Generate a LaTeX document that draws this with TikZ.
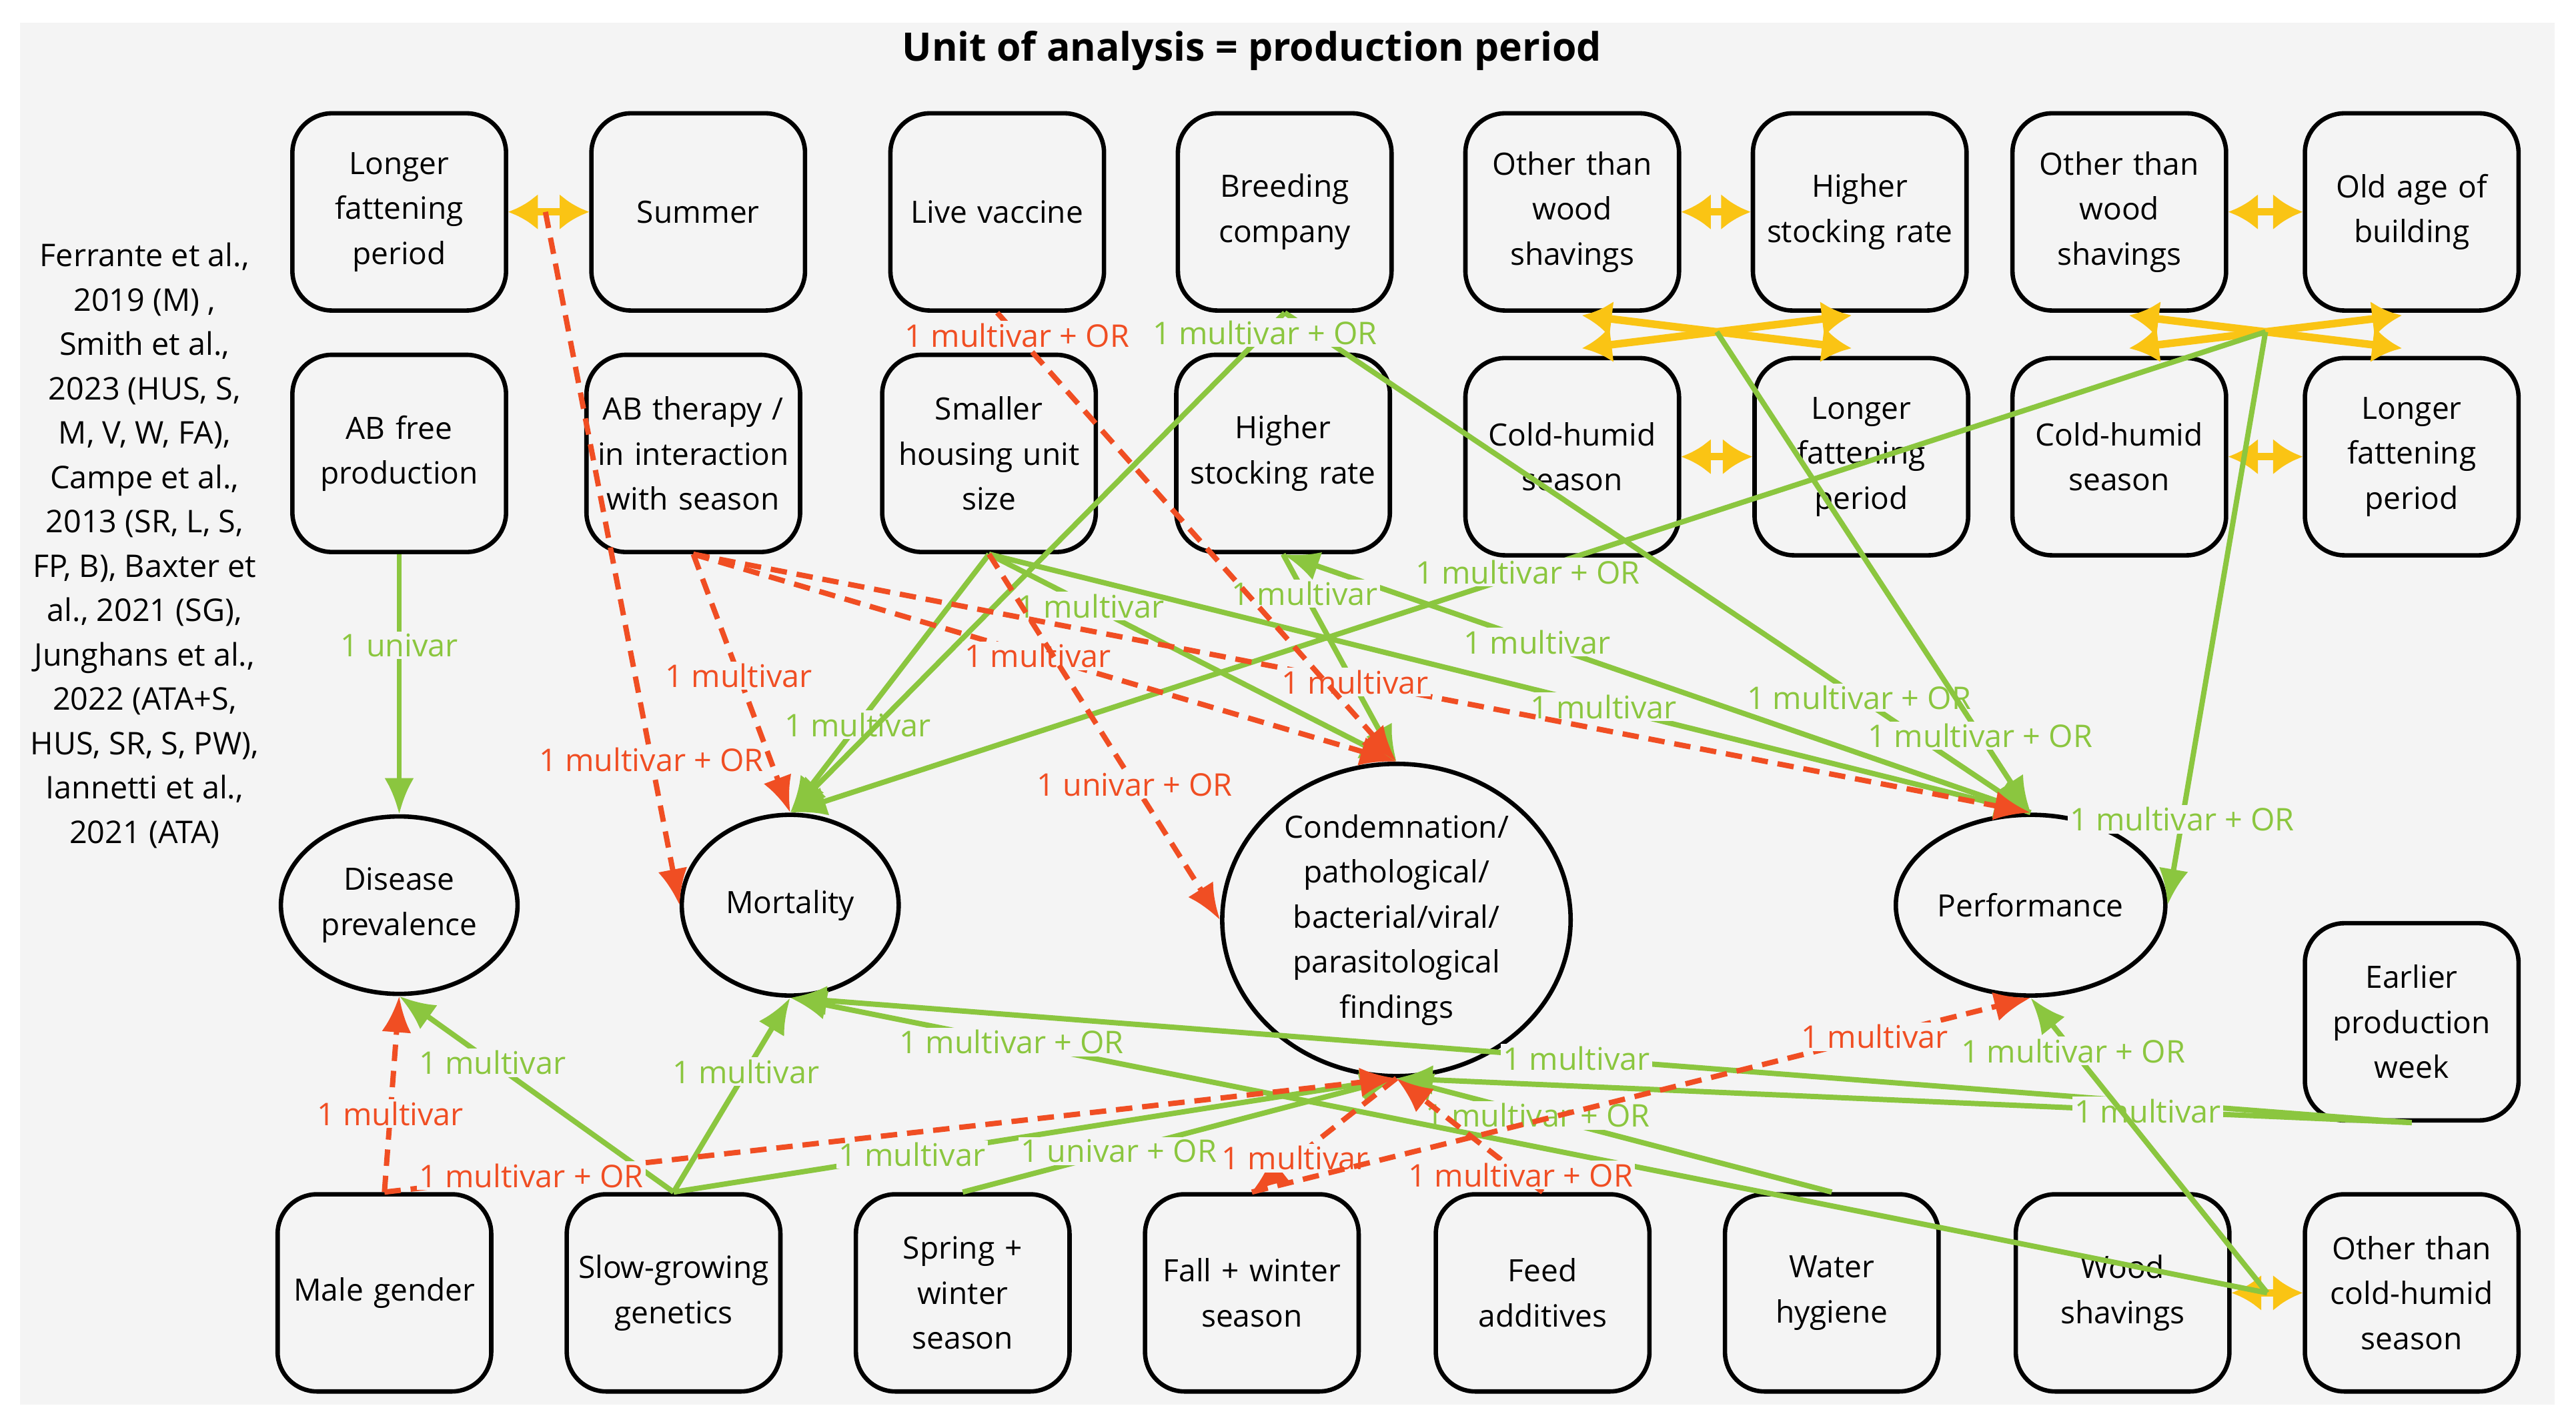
\documentclass[tikz,border=0pt]{standalone}
\usepackage{fontspec}
\setmainfont{Open Sans}
\usetikzlibrary{shapes.geometric,arrows.meta}
\definecolor{gr}{RGB}{139,198,63}
\definecolor{rd}{RGB}{240,78,35}
\definecolor{yl}{RGB}{250,196,20}
\definecolor{bg}{RGB}{244,244,244}
\begin{document}
\begin{tikzpicture}[x=0.025cm,y=-0.025cm,
 box/.style={draw,line width=1.9pt,rounded corners=0.6cm,minimum width=3.25cm,minimum height=3cm,align=center,text width=3.2cm,inner sep=0pt,font=\fontsize{13.3}{19.5}\selectfont},
 ell/.style={draw,line width=1.9pt,ellipse,align=center,inner sep=0pt,font=\fontsize{13.3}{19.5}\selectfont},
 g/.style={draw=gr,line width=2.3pt,-{Latex[length=0.55cm,width=0.45cm]}},
 r/.style={draw=rd,line width=2.3pt,dash pattern=on 0.25cm off 0.15cm,-{Latex[length=0.55cm,width=0.45cm]}},
 yarr/.style={draw=yl,line width=3.3pt,{Latex[length=0.45cm,width=0.55cm]}-{Latex[length=0.45cm,width=0.55cm]}},
 gl/.style={fill=bg,inner sep=1pt,text=gr,font=\fontsize{13.5}{15}\selectfont},
 rl/.style={fill=bg,inner sep=1pt,text=rd,font=\fontsize{13.5}{15}\selectfont}]
\useasboundingbox (0,0) rectangle (1568,868);
\fill[bg] (12,14) rectangle (1555,855);
\node[font=\bfseries\fontsize{17}{20}\selectfont] (title) at (762,31) {Unit of analysis = production period};
\node[align=center,font=\fontsize{13.5}{19.2}\selectfont] (refs) at (88,332) {Ferrante et al.,\\2019 (M) ,\\Smith et al.,\\2023 (HUS, S,\\M, V, W, FA),\\Campe et al.,\\2013 (SR, L, S,\\FP, B), Baxter et\\al., 2021 (SG),\\Junghans et al.,\\2022 (ATA+S,\\HUS, SR, S, PW),\\Iannetti et al.,\\2021 (ATA)};
% row 1
\node[box] (lfp1) at (243,129) {Longer\\fattening\\period};
\node[box] (sum) at (425,129) {Summer};
\node[box] (lv) at (607,129) {Live vaccine};
\node[box] (bc) at (782,129) {Breeding\\company};
\node[box] (owsA) at (957,129) {Other than\\wood\\shavings};
\node[box] (hsr1) at (1132,129) {Higher\\stocking rate};
\node[box] (owsB) at (1290,129) {Other than\\wood\\shavings};
\node[box] (old) at (1468,129) {Old age of\\building};
% row 2
\node[box] (abf) at (243,276) {AB free\\production};
\node[box] (abt) at (422,276) {AB therapy /\\in interaction\\with season};
\node[box] (shu) at (602,276) {Smaller\\housing unit\\size};
\node[box] (hsr2) at (781,276) {Higher\\stocking rate};
\node[box] (chA) at (957,278) {Cold-humid\\season};
\node[box] (lfpA) at (1133,278) {Longer\\fattening\\period};
\node[box] (chB) at (1290,278) {Cold-humid\\season};
\node[box] (lfpB) at (1468,278) {Longer\\fattening\\period};
% outcomes
\node[ell,minimum width=3.6cm,minimum height=2.7cm] (dis) at (243,551) {Disease\\prevalence};
\node[ell,minimum width=3.3cm,minimum height=2.75cm] (mort) at (481,551) {Mortality};
\node[ell,minimum width=5.3cm,minimum height=4.75cm] (cond) at (850,560) {Condemnation/\\pathological/\\bacterial/viral/\\parasitological\\findings};
\node[ell,minimum width=4.1cm,minimum height=2.75cm] (perf) at (1236,551) {Performance};
\node[box] (early) at (1468,622) {Earlier\\production\\week};
% bottom row
\node[box] (male) at (234,787) {Male gender};
\node[box] (slow) at (410,787) {Slow-growing\\genetics};
\node[box] (spr) at (586,787) {Spring +\\winter\\season};
\node[box] (fall) at (762,787) {Fall + winter\\season};
\node[box] (feed) at (939,787) {Feed\\additives};
\node[box] (wat) at (1115,787) {Water\\hygiene};
\node[box] (wood) at (1292,787) {Wood\\shavings};
\node[box] (och) at (1468,787) {Other than\\cold-humid\\season};
% coordinates
\coordinate (s1) at (332,129);
\coordinate (a1) at (963,192); \coordinate (a2) at (1127,212);
\coordinate (a3) at (963,212); \coordinate (a4) at (1127,192);
\coordinate (b1) at (1296,192); \coordinate (b2) at (1462,212);
\coordinate (b3) at (1296,212); \coordinate (b4) at (1462,192);
\coordinate (xa) at (1045,202); \coordinate (xb) at (1379,202);
\coordinate (yp) at (1380,787);
% yellow
\draw[yarr] (lfp1.east) -- (sum.west);
\draw[yarr] (owsA.east) -- (hsr1.west);
\draw[yarr] (chA.east) -- (lfpA.west);
\draw[yarr] (owsB.east) -- (old.west);
\draw[yarr] (chB.east) -- (lfpB.west);
\draw[yarr] (a1) -- (a2); \draw[yarr] (a3) -- (a4);
\draw[yarr] (b1) -- (b2); \draw[yarr] (b3) -- (b4);
\draw[yarr] (wood.east) -- (och.west);
% green
\draw[g] (abf.south) -- node[gl,pos=0.35]{1 univar} (dis.north);
\draw[g] (bc.south) -- node[gl,pos=0.77]{1 multivar + OR} (perf.north);
\draw[g] (xa) -- node[gl,pos=0.84]{1 multivar + OR} (perf.north);
\draw[g] (xb) -- node[gl,pos=0.5]{1 multivar + OR} (mort.north);
\draw[g] (xb) -- node[gl,pos=0.85]{1 multivar + OR} (perf.east);
\draw[g] (shu.south) -- node[gl,pos=0.66]{1 multivar} (mort.north);
\draw[g] (shu.south) -- node[gl,pos=0.25]{1 multivar} (cond.north);
\draw[g] (shu.south) -- node[gl,pos=0.59]{1 multivar} (perf.north);
\draw[g] (perf.north) -- node[gl,pos=0.66]{1 multivar} (hsr2.south);
\draw[g] (hsr2.south) -- node[gl,pos=0.19]{1 multivar} (cond.north);
\draw[g] (slow.north) -- node[gl,pos=0.66]{1 multivar} (dis.south);
\draw[g] (slow.north) -- node[gl,pos=0.62]{1 multivar} (mort.south);
\draw[g] (slow.north) -- node[gl,pos=0.33]{1 multivar} (cond.south);
\draw[g] (spr.north) -- node[gl,pos=0.36]{1 univar + OR} (cond.south);
\draw[g] (wat.north) -- node[gl,pos=0.675]{1 multivar + OR} (cond.south);
\draw[g] (yp) -- node[gl,pos=0.85]{1 multivar + OR} (mort.south);
\draw[g] (early.south) -- node[gl,pos=0.515]{1 multivar} (mort.south);
\draw[g] (early.south) -- node[gl,pos=0.26]{1 multivar} (cond.south);
\draw[g] (yp) -- node[gl,pos=0.82]{1 multivar + OR} (perf.south);
\draw[g] (bc.south) -- node[gl,pos=0.04]{1 multivar + OR} (mort.north);
% red
\draw[r] (s1) -- node[rl,pos=0.79]{1 multivar + OR} (mort.west);
\draw[r] (abt.south) -- node[rl,pos=0.47]{1 multivar} (mort.north);
\draw[r] (abt.south) -- node[rl,pos=0.49]{1 multivar} (cond.north);
\draw[r] (abt.south) -- node[rl,pos=0.495]{1 multivar} (perf.north);
\draw[r] (shu.south) -- node[rl,pos=0.63]{1 univar + OR} (cond.west);
\draw[r] (male.north) -- node[rl,pos=0.4]{1 multivar} (dis.south);
\draw[r] (male.north) -- node[rl,pos=0.145]{1 multivar + OR} (cond.south);
\draw[r] (cond.south) -- node[rl,pos=0.7]{1 multivar} (fall.north);
\draw[r] (fall.north) -- node[rl,pos=0.8]{1 multivar} (perf.south);
\draw[r] (feed.north) -- node[rl,pos=0.15]{1 multivar + OR} (cond.south);
\draw[r] (lv.south) -- node[rl,pos=0.05]{1 multivar + OR} (cond.north);
\end{tikzpicture}
\end{document}
